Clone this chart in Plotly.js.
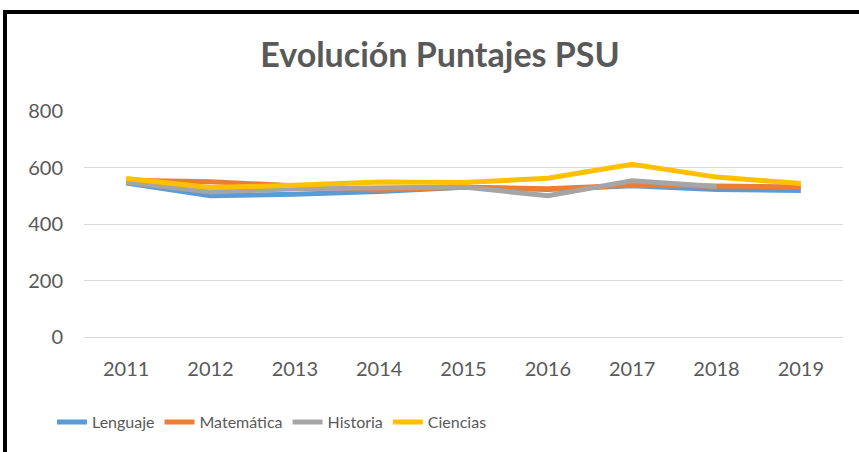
<!DOCTYPE html>
<html>
<head>
<meta charset="utf-8">
<script src="https://cdn.plot.ly/plotly-3.0.1.min.js"></script>
<style>
  html, body { margin: 0; padding: 0; background: #fff; overflow: hidden; }
  #chart { width: 859px; height: 452px; }
  #frame { position: absolute; left: 3px; top: 10px; width: 900px; height: 500px;
           border-top: 4px solid #000; border-left: 4px solid #000; pointer-events: none; }
</style>
</head>
<body>
<div id="chart"></div>
<div id="frame"></div>
<script>
const years = ['2011', '2012', '2013', '2014', '2015', '2016', '2017', '2018', '2019'];
const lenguaje   = [545, 500, 505, 515, 530, 522, 535, 522, 519];
const matematica = [555, 550, 535, 520, 530, 525, 537, 533, 531];
const historia   = [548, 513, 525, 529, 531, 500, 553, 533, null];
const ciencias   = [561, 529, 537, 549, 547, 562, 611, 566, 543];
const seriesNames = ['Lenguaje', 'Matemática', 'Historia', 'Ciencias'];
const seriesColors = ['#5B9BD5', '#ED7D31', '#A5A5A5', '#FFC000'];
const seriesValues = [lenguaje, matematica, historia, ciencias];

const traces = seriesValues.map((vals, i) => ({
  type: 'scatter', mode: 'lines', x: years, y: vals, name: seriesNames[i],
  line: { color: seriesColors[i], width: 5 }, connectgaps: false
}));

const font = { family: 'Lato, "Open Sans", sans-serif', color: '#595959', size: 20 };
const legendFont = { family: '"Liberation Sans Narrow", Lato, sans-serif', color: '#595959', size: 16 };
const layout = {
  width: 859, height: 452,
  margin: { l: 84, r: 16, t: 111, b: 115 },
  paper_bgcolor: '#fff', plot_bgcolor: '#fff',
  font: font,
  showlegend: true,
  title: { text: '<b>Evolución Puntajes PSU</b>', font: { family: 'Lato, sans-serif', size: 34, color: '#595959' },
           x: 440 / 859, xanchor: 'center', xref: 'container', y: 1 - 55 / 452, yanchor: 'middle', yref: 'container' },
  xaxis: { type: 'category', range: [-0.5, 8.5], showgrid: false, showline: true, linecolor: '#d9d9d9', linewidth: 1,
           ticks: '', tickfont: font, ticklabelstandoff: 14, zeroline: false, fixedrange: true },
  yaxis: { range: [0, 800], dtick: 200, showgrid: true, gridcolor: '#d9d9d9', gridwidth: 1,
           zeroline: false, showline: false, ticks: '', tickfont: font, ticklabelstandoff: 20, fixedrange: true },
  legend: { orientation: 'h', x: (272 - 84) / 759, xanchor: 'center', y: -0.377, yanchor: 'middle',
            font: legendFont, bgcolor: 'rgba(0,0,0,0)' },
};
Plotly.newPlot('chart', traces, layout, { displayModeBar: false, staticPlot: true });
</script>
</body>
</html>
